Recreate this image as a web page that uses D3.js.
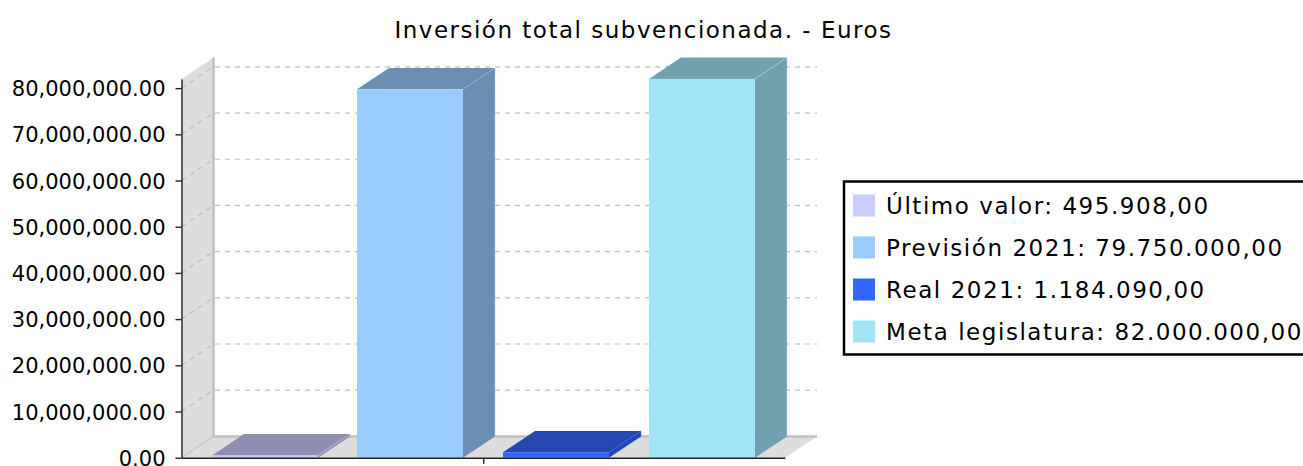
<!DOCTYPE html>
<html><head><meta charset="utf-8">
<script src="https://cdn.jsdelivr.net/npm/d3@7"></script>
<style>html,body{margin:0;padding:0;background:#fff}svg{display:block}text{font-family:"DejaVu Sans",sans-serif;fill:#000}</style>
</head><body><svg id="c" width="1303" height="466"></svg>
<script>
const chartTitle = "Inversión total subvencionada. - Euros";
const seriesNames = ["Último valor", "Previsión 2021", "Real 2021", "Meta legislatura"];
const seriesValues = [495908, 79750000, 1184090, 82000000];
const seriesLabels = ["495.908,00", "79.750.000,00", "1.184.090,00", "82.000.000,00"];
const frontColors = ["#CCCCFF", "#99CCFF", "#3366FF", "#A3E5F8"];
const darkColors = ["#8F8FB2", "#6B8FB2", "#2447B2", "#72A0AE"];
const yTicks = [0,10e6,20e6,30e6,40e6,50e6,60e6,70e6,80e6];
const yMax = 82000000;

const svg = d3.select("#c");
const L=181.5, R=785, B=457.7, T=78.9, DX=32, DY=-21.3;
const y = d3.scaleLinear().domain([0,yMax]).range([B,T]);
const x = d3.scaleBand().domain(seriesNames).range([L,R+0.7]).paddingInner(.2725).paddingOuter(.21);
const poly=(pts,fill,stroke,sw)=>svg.append("polygon").attr("points",pts.map(p=>p.join(",")).join(" ")).attr("fill",fill).attr("stroke",stroke||"none").attr("stroke-width",sw||0);

// wall and floor
poly([[L,T],[L+DX,T+DY],[L+DX,B+DY],[L,B]],"#DDDDDD");
poly([[L,B],[L+DX,B+DY],[R+DX,B+DY],[R,B]],"#DDDDDD");
svg.append("path").attr("d",`M${L+DX},${T+DY}V${B+DY}H${R+DX}`).attr("fill","none").attr("stroke","#C0C0C0").attr("stroke-width",2.5);
svg.append("path").attr("d",`M${L},${B}L${L+DX},${B+DY}`).attr("stroke","#C8C8C8").attr("stroke-width",1.5);

// gridlines
yTicks.slice(1).forEach(t=>{
  svg.append("path").attr("d",`M${L},${y(t)}L${L+DX},${y(t)+DY}H${R+DX}`)
    .attr("fill","none").attr("stroke","#BEBEBE").attr("stroke-width",1.2).attr("stroke-dasharray","5 5");
});

// bars
seriesNames.forEach((n,i)=>{
  const x0=Math.floor(x(n)), x1=x0+x.bandwidth(), yt=y(seriesValues[i]), d=darkColors[i], f=frontColors[i];
  poly([[x1,yt],[x1+DX,yt+DY],[x1+DX,B+DY],[x1,B]],d);
  poly([[x0,yt],[x0+DX,yt+DY],[x1+DX,yt+DY],[x1,yt]],d);
  svg.append("path").attr("d",`M${x1},${yt}L${x1+DX},${yt+DY}V${B+DY}`).attr("fill","none").attr("stroke",f).attr("stroke-opacity",.45).attr("stroke-width",1);
  svg.append("rect").attr("x",x0).attr("y",yt).attr("width",x.bandwidth()).attr("height",B-yt).attr("fill",f);
});

// axes
const ax=svg.append("g").attr("transform",`translate(${L},0)`).call(d3.axisLeft(y).tickValues(yTicks).tickFormat(d3.format(",.2f")).tickSize(6).tickPadding(10).tickSizeOuter(0));
ax.selectAll("text").attr("font-size",21).style("font-family",'"DejaVu Sans"').attr("fill","#000").attr("dy","0.36em");
ax.selectAll("line,path").attr("stroke","#222").attr("stroke-width",1.4);
const xb=d3.scalePoint().domain(["c"]).range([L,R]).padding(.5);
const bx=svg.append("g").attr("transform",`translate(0,${B})`).call(d3.axisBottom(xb).tickSize(6).tickFormat("").tickSizeOuter(0));
bx.selectAll("line,path").attr("stroke","#222").attr("stroke-width",1.4);

// title
svg.append("text").attr("x",643.5).attr("y",38).attr("text-anchor","middle").attr("font-size",23).style("letter-spacing","1.5px").text(chartTitle);

// legend
svg.append("rect").attr("x",844).attr("y",181.5).attr("width",470).attr("height",173).attr("fill","#fff").attr("stroke","#000").attr("stroke-width",2.5);
const legendY=d3.scaleBand().domain(seriesNames).range([184.5,352.5]);
seriesNames.forEach((n,i)=>{
  const cy=legendY(n)+legendY.bandwidth()/2;
  svg.append("rect").attr("x",853).attr("y",cy-11).attr("width",22).attr("height",22).attr("fill",frontColors[i]);
  svg.append("text").attr("x",886).attr("y",cy+8.5).attr("font-size",23).style("letter-spacing","1.55px").text(`${n}: ${seriesLabels[i]}`);
});
</script></body></html>
